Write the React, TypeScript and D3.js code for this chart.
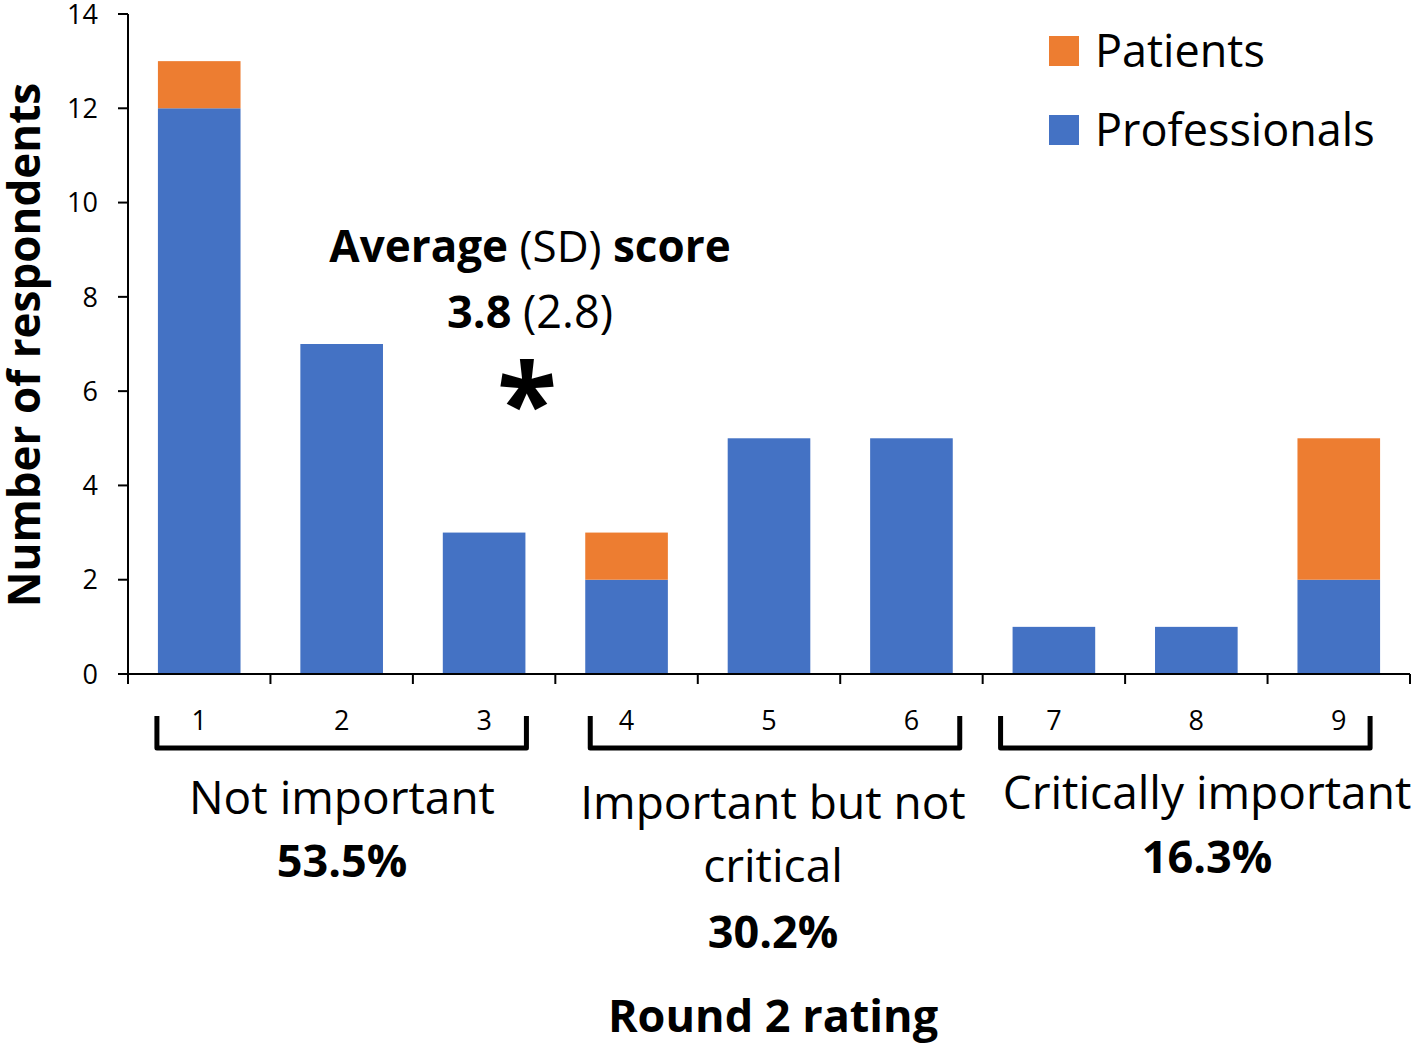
import React from "react";
import * as d3 from "d3";

const ratings = ["1", "2", "3", "4", "5", "6", "7", "8", "9"];
const professionals = [12, 7, 3, 2, 5, 5, 1, 1, 2];
const patients = [1, 0, 0, 1, 0, 0, 0, 0, 3];
const yTicks = [0, 2, 4, 6, 8, 10, 12, 14];
const groups = [
  { from: 0, to: 2, lines: ["Not important"], pct: "53.5%" },
  { from: 3, to: 5, lines: ["Important but not", "critical"], pct: "30.2%" },
  { from: 6, to: 8, lines: ["Critically important"], pct: "16.3%" },
];
const seriesNames = ["Patients", "Professionals"];
const COLORS = { Professionals: "#4472C4", Patients: "#ED7D31" };

const FONT = "'Open Sans', Lato, sans-serif";

export default function App() {
  const W = 1418, H = 1044;
  const left = 128, right = 1410, top = 14, bottom = 674;
  const x = d3.scaleBand<string>().domain(ratings).range([left, right]).paddingInner(0.42).paddingOuter(0.21);
  const y = d3.scaleLinear().domain([0, 14]).range([bottom, top]);
  const tickXs = d3.range(ratings.length + 1).map((i) => left + i * (right - left) / ratings.length);

  const rows = ratings.map((r, i) => ({ r, Professionals: professionals[i], Patients: patients[i] }));
  const stack = d3.stack<any>().keys(["Professionals", "Patients"])(rows);
  const bracketShift = [0, 6, -11];

  return (
    <svg width={W} height={H} style={{ display: "block", position: "absolute", left: 0, top: 0 }} fontFamily={FONT}>
      <rect width={W} height={H} fill="#fff" />
      {stack.map((s) =>
        s.map((d, i) =>
          d[1] - d[0] > 0 ? (
            <rect key={s.key + i} x={x(ratings[i])} width={x.bandwidth()} y={y(d[1])} height={y(d[0]) - y(d[1])} fill={(COLORS as any)[s.key]} />
          ) : null
        )
      )}
      {/* y axis */}
      <line x1={left} x2={left} y1={top} y2={bottom} stroke="#000" strokeWidth={2} />
      {yTicks.map((t) => (
        <g key={t}>
          <line x1={left - 10} x2={left} y1={y(t)} y2={y(t)} stroke="#000" strokeWidth={2} />
          <text x={left - 30} y={y(t)} dy="0.36em" textAnchor="end" fontSize={27}>{t}</text>
        </g>
      ))}
      {/* x axis */}
      <line x1={left} x2={right} y1={bottom} y2={bottom} stroke="#000" strokeWidth={2} />
      {tickXs.map((tx, i) => (
        <line key={i} x1={tx} x2={tx} y1={bottom} y2={bottom + 10} stroke="#000" strokeWidth={2} />
      ))}
      {ratings.map((r) => (
        <text key={r} x={(x(r) as number) + x.bandwidth() / 2} y={730} textAnchor="middle" fontSize={27}>{r}</text>
      ))}
      {/* brackets */}
      {groups.map((g, gi) => {
        const x0 = (x(ratings[g.from]) as number) - 1 + bracketShift[gi];
        const x1 = (x(ratings[g.to]) as number) + x.bandwidth() + 1 + bracketShift[gi];
        return (
          <path key={gi} d={`M${x0},716 L${x0},748 L${x1},748 L${x1},716`} fill="none" stroke="#000" strokeWidth={5} strokeLinejoin="round" />
        );
      })}
      <text x={342} y={814} textAnchor="middle" fontSize={46}>{groups[0].lines[0]}</text>
      <text x={342} y={877} textAnchor="middle" fontSize={45} fontWeight="bold">{groups[0].pct}</text>
      <text x={773} y={819} textAnchor="middle" fontSize={46}>{groups[1].lines[0]}</text>
      <text x={773} y={882} textAnchor="middle" fontSize={46}>{groups[1].lines[1]}</text>
      <text x={773} y={948} textAnchor="middle" fontSize={45} fontWeight="bold">{groups[1].pct}</text>
      <text x={1207} y={809} textAnchor="middle" fontSize={46}>{groups[2].lines[0]}</text>
      <text x={1207} y={873} textAnchor="middle" fontSize={45} fontWeight="bold">{groups[2].pct}</text>
      <text x={773} y={1032} textAnchor="middle" fontSize={45} fontWeight="bold">Round 2 rating</text>
      {/* y label */}
      <text transform={`translate(40,345) rotate(-90)`} textAnchor="middle" fontSize={44} fontWeight="bold">Number of respondents</text>
      {/* annotation */}
      <text x={530} y={262} textAnchor="middle" fontSize={44}>
        <tspan fontWeight="bold">Average</tspan> (SD) <tspan fontWeight="bold">score</tspan>
      </text>
      <text x={530} y={328} textAnchor="middle" fontSize={45}>
        <tspan fontWeight="bold">3.8</tspan> (2.8)
      </text>
      <text x={527} y={442} textAnchor="middle" fontSize={110} fontWeight="bold">*</text>
      {/* legend */}
      {seriesNames.map((n, i) => (
        <g key={n} transform={`translate(1049,${36 + i * 79})`}>
          <rect width={30} height={30} fill={(COLORS as any)[n]} />
          <text x={46} y={15} dy="0.36em" fontSize={45}>{n}</text>
        </g>
      ))}
    </svg>
  );
}
